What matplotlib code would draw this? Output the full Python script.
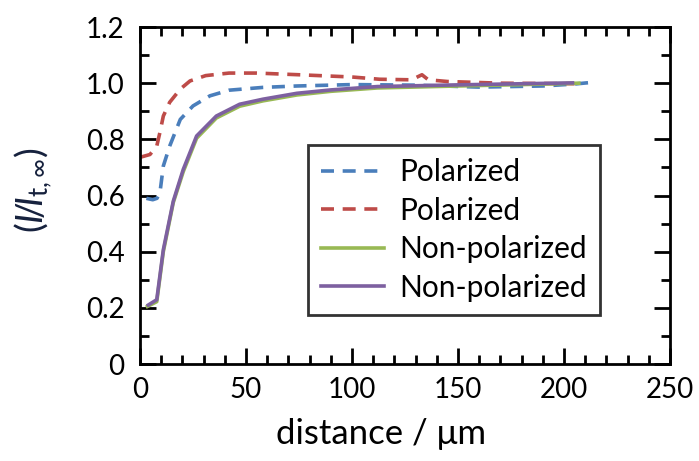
import matplotlib
matplotlib.use('Agg')
import matplotlib.pyplot as plt
from matplotlib.ticker import MultipleLocator

plt.rcParams['font.family'] = ['Lato', 'DejaVu Sans']
plt.rcParams['mathtext.fontset'] = 'custom'
plt.rcParams['mathtext.rm'] = 'Lato'
plt.rcParams['mathtext.it'] = 'Lato:italic'

# data
pol_blue_x = [3, 6, 8, 9.4, 11, 14, 19, 25, 33, 42, 58, 74, 100, 130, 160, 190, 205, 212]
pol_blue_y = [0.59, 0.585, 0.59, 0.61, 0.705, 0.776, 0.871, 0.919, 0.955, 0.975, 0.985, 0.99, 0.995, 0.993, 0.986, 0.99, 0.997, 1.002]

pol_red_x = [0, 4.7, 7.9, 9.4, 11, 14, 19, 23.6, 31, 42, 55, 75, 100, 113, 128, 133, 136, 145, 170, 205]
pol_red_y = [0.736, 0.746, 0.776, 0.825, 0.883, 0.932, 0.979, 1.008, 1.027, 1.036, 1.036, 1.03, 1.022, 1.014, 1.012, 1.03, 1.012, 1.006, 1.0, 0.998]

np_green_x = [3.5, 7.9, 11, 15.7, 20.4, 26.7, 36, 47, 58, 74, 90, 112, 150, 180, 207]
np_green_y = [0.205, 0.222, 0.40, 0.575, 0.685, 0.804, 0.876, 0.918, 0.937, 0.958, 0.971, 0.983, 0.99, 0.995, 1.0]

np_purple_x = [3.9, 7.9, 11, 15.7, 20.4, 26.7, 36, 47, 58, 74, 90, 112, 150, 180, 204]
np_purple_y = [0.21, 0.229, 0.407, 0.58, 0.693, 0.812, 0.883, 0.925, 0.943, 0.964, 0.976, 0.988, 0.994, 0.998, 1.001]

x_ticks = [0, 50, 100, 150, 200, 250]
x_labels = ['0', '50', '100', '150', '200', '250']
y_ticks = [0, 0.2, 0.4, 0.6, 0.8, 1.0, 1.2]
y_labels = ['0', '0.2', '0.4', '0.6', '0.8', '1.0', '1.2']

fig = plt.figure(figsize=(6.99, 4.61), dpi=100)
ax = fig.add_axes([0.2003, 0.2104, 0.7582, 0.7310])

dash = (3.6, 2.4)
ax.plot(pol_blue_x, pol_blue_y, color='#4A7EBB', lw=2.6, dashes=dash, label='Polarized')
ax.plot(pol_red_x, pol_red_y, color='#BE4B48', lw=2.6, dashes=dash, label='Polarized')
ax.plot(np_green_x, np_green_y, color='#98B954', lw=2.6, label='Non-polarized')
ax.plot(np_purple_x, np_purple_y, color='#7D60A0', lw=2.6, label='Non-polarized')

ax.set_xlim(0, 250)
ax.set_ylim(0, 1.2)
ax.set_xticks(x_ticks)
ax.set_xticklabels(x_labels)
ax.set_yticks(y_ticks)
ax.set_yticklabels(y_labels)
ax.xaxis.set_minor_locator(MultipleLocator(10))
ax.yaxis.set_minor_locator(MultipleLocator(0.1))

ax.tick_params(which='both', direction='in', top=True, right=True, width=2, labelsize=20)
ax.tick_params(axis='x', which='both', pad=9)
ax.tick_params(axis='y', which='both', pad=11)
ax.tick_params(which='major', length=11.5)
ax.tick_params(which='minor', length=6.5)
for s in ax.spines.values():
    s.set_linewidth(2)

ax.set_xlabel('distance / μm', fontsize=25)
ax.xaxis.set_label_coords(0.455, -0.16)
ax.set_ylabel(r'$(\mathit{I}\!/\!\mathit{I}_{\mathrm{t,\infty}})$', fontsize=26.5, color='#16213d')
ax.yaxis.set_label_coords(-0.16, 0.516)

leg = ax.legend(loc='upper left', bbox_to_anchor=(0.317, 0.65), fontsize=21.5, frameon=True,
                fancybox=False, edgecolor='black', handlelength=2.1, handletextpad=0.5,
                labelspacing=0.35, borderpad=0.45, borderaxespad=0)
leg.get_frame().set_linewidth(2)

fig.savefig('out.png', dpi=100)
